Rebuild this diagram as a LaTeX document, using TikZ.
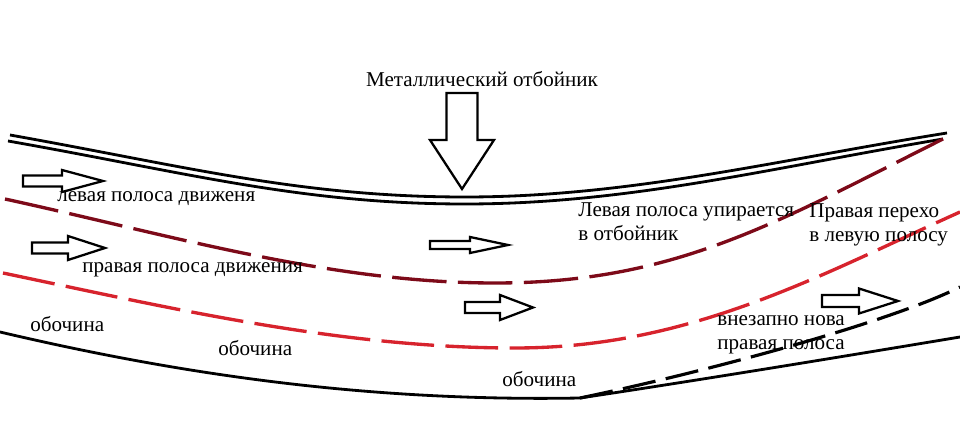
\documentclass[tikz,border=0pt]{standalone}
\usepackage{fontspec}
\setmainfont{Liberation Serif}

\definecolor{maroonline}{RGB}{125,10,25}
\definecolor{redline}{RGB}{215,35,45}

% outline arrow: start x, centre y, tip x, shaft half, head half, head start x
\newcommand{\lanearrow}[6]{%
  \draw[blockarrow] (#1,#2-#4) -- (#6,#2-#4) -- (#6,#2-#5) -- (#3,#2)
    -- (#6,#2+#5) -- (#6,#2+#4) -- (#1,#2+#4) -- cycle;}

\begin{document}
\begin{tikzpicture}[
    x=0.02cm, y=-0.02cm,
    guard/.style={line width=1.6pt},
    edgeline/.style={line width=1.6pt},
    maroondash/.style={line width=1.9pt, color=maroonline, dash pattern=on 31pt off 6.5pt},
    reddash/.style={line width=1.9pt, color=redline, dash pattern=on 30pt off 6.5pt},
    blackdash/.style={line width=1.8pt, dash pattern=on 19pt off 6pt},
    blockarrow/.style={draw, line width=1.3pt, fill=white, line join=miter},
    roadtext/.style={font=\fontsize{12}{14}\selectfont, inner sep=0pt, align=left}
]
\useasboundingbox (0,0) rectangle (960,428);

% guardrail (double line)
\draw[guard] (10,135) .. controls (184,166) and (300,197) .. (465,197)
  .. controls (630,197) and (777,160) .. (947,133);
\draw[guard] (8,141) .. controls (184,172) and (300,204) .. (465,204)
  .. controls (630,204) and (775,167) .. (943,139);

% lane markings
\draw[maroondash] (5,199) .. controls (170,235) and (330,283) .. (495,283)
  .. controls (676,283) and (777,222) .. (943,139);
\draw[reddash] (3,273) .. controls (170,308) and (340,348) .. (515,348)
  .. controls (690,348) and (820,275) .. (960,212);

% road edge and the new lane
\coordinate (fork) at (580,398);
\draw[edgeline] (0,332) .. controls (170,372) and (360,402) .. (fork);
\draw[edgeline] (fork) .. controls (700,380) and (840,357) .. (960,337);
\draw[blackdash] (fork) .. controls (710,371) and (890,322) .. (960,287);

% arrows
\draw[blockarrow] (446.5,93) -- (477.5,93) -- (477.5,140) -- (494,140)
  -- (462,189) -- (430,140) -- (446.5,140) -- cycle;
\lanearrow{23}{181}{103}{5.5}{11}{62}
\lanearrow{32}{248}{105}{5.5}{12}{68}
\lanearrow{430}{245}{508}{4}{8}{470}
\lanearrow{465}{307.5}{533}{5.5}{12.5}{500}
\lanearrow{822}{301}{898}{6}{12.5}{859}

% texts
\node[roadtext, anchor=base] (guardtext) at (482,87) {Металлический отбойник};
\node[roadtext, anchor=base west] (leftlane) at (57,202) {левая полоса движеня};
\node[roadtext, anchor=base west] (rightlane) at (82,273) {правая полоса движения};
\node[roadtext, anchor=base west] (leftends) at (578,241) {Левая полоса упирается\\в отбойник};
\node[roadtext, anchor=base west] (rightmerges) at (809,242) {Правая перехо\\в левую полосу};
\node[roadtext, anchor=base west] (shoulderA) at (30,332) {обочина};
\node[roadtext, anchor=base west] (shoulderB) at (218,356) {обочина};
\node[roadtext, anchor=base west] (shoulderC) at (502,387) {обочина};
\node[roadtext, anchor=base west] (newlane) at (717,350) {внезапно нова\\правая полоса};

\end{tikzpicture}
\end{document}
